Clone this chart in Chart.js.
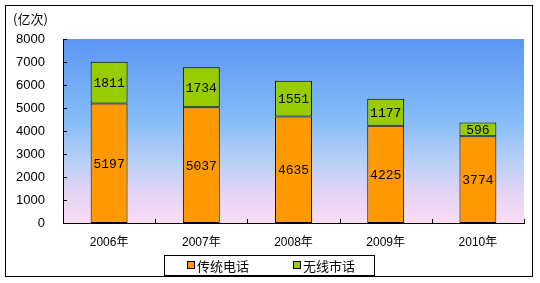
<!DOCTYPE html>
<html>
<head>
<meta charset="utf-8">
<script src="https://cdn.jsdelivr.net/npm/chart.js@4.4.0/dist/chart.umd.min.js"></script>
<style>
  html, body { margin: 0; padding: 0; background: #fff; }
  #wrap { width: 540px; height: 283px; position: relative; }
</style>
</head>
<body>
<div id="wrap"><canvas id="c" width="540" height="283"></canvas></div>
<script>
// 2006–2010 本地电话通话量（亿次）
const years = ['2006年', '2007年', '2008年', '2009年', '2010年'];
const fixedLine = [5197, 5037, 4635, 4225, 3774];   // 传统电话
const wireless = [1811, 1734, 1551, 1177, 596];     // 无线市话
const yTicks = [0, 1000, 2000, 3000, 4000, 5000, 6000, 7000, 8000];
const seriesNames = ['传统电话', '无线市话'];
const unitLabel = '(亿次)';

const sansFont = '"Liberation Sans", "Noto Sans CJK SC", sans-serif';
const cjkFont = '"Noto Sans CJK SC", sans-serif';
const numFont = '"Liberation Mono", "DejaVu Sans Mono", monospace';

const decor = {
  id: 'decor',
  beforeDraw(chart) {
    const { ctx, chartArea: a } = chart;
    ctx.save();
    ctx.fillStyle = '#fff';
    ctx.fillRect(0, 0, chart.width, chart.height);
    const g = ctx.createLinearGradient(0, a.top, 0, a.bottom);
    g.addColorStop(0, '#5c96f4');
    g.addColorStop(0.45, '#86bdf8');
    g.addColorStop(0.68, '#bcd0f6');
    g.addColorStop(0.85, '#e6d4f4');
    g.addColorStop(1, '#fadcf4');
    ctx.fillStyle = g;
    ctx.fillRect(a.left, a.top, a.right - a.left, a.bottom - a.top);
    ctx.restore();
  },
  afterDraw(chart) {
    const { ctx, chartArea: a, scales } = chart;
    ctx.save();
    // tick marks, pointing into the plot
    ctx.strokeStyle = '#000';
    ctx.lineWidth = 1;
    ctx.beginPath();
    yTicks.forEach(v => {
      const y = Math.round(scales.y.getPixelForValue(v)) + 0.5;
      ctx.moveTo(a.left, y); ctx.lineTo(a.left + 4, y);
    });
    const n = years.length;
    const step = (a.right - a.left) / n;
    for (let k = 1; k <= n; k++) {
      const x = Math.round(a.left + step * k) + 0.5;
      ctx.moveTo(x, a.bottom); ctx.lineTo(x, a.bottom - 4);
    }
    ctx.stroke();

    // value labels inside each segment
    ctx.fillStyle = '#000';
    ctx.font = '13px ' + numFont;
    ctx.textAlign = 'center';
    ctx.textBaseline = 'middle';
    chart.data.datasets.forEach((ds, di) => {
      chart.getDatasetMeta(di).data.forEach((bar, i) => {
        const p = bar.getProps(['x', 'y', 'base'], true);
        ctx.fillText(String(ds.data[i]), p.x, (p.y + p.base) / 2 + 1);
      });
    });

    // unit label
    ctx.font = '13px ' + cjkFont;
    ctx.textAlign = 'left';
    ctx.fillText(unitLabel, 13, 19);

    // legend
    const lx = 164.5, ly = 255.5, lw = 210, lh = 20;
    ctx.fillStyle = '#fff';
    ctx.fillRect(lx, ly, lw, lh);
    ctx.strokeRect(lx, ly, lw, lh);
    const starts = [187, 293];
    chart.data.datasets.forEach((ds, di) => {
      const sx = starts[di];
      ctx.fillStyle = ds.backgroundColor;
      ctx.fillRect(sx + 0.5, 261.5, 7, 7);
      ctx.strokeStyle = '#000';
      ctx.strokeRect(sx + 0.5, 261.5, 7, 7);
      ctx.fillStyle = '#000';
      ctx.font = '13px ' + cjkFont;
      ctx.textAlign = 'left';
      ctx.fillText(ds.label, sx + 10, 266);
    });

    // outer frame
    ctx.strokeStyle = '#000';
    ctx.strokeRect(5.5, 5.5, 527, 271);
    ctx.restore();
  }
};

new Chart(document.getElementById('c'), {
  type: 'bar',
  data: {
    labels: years,
    datasets: [
      { label: seriesNames[0], data: fixedLine, backgroundColor: '#ff9900',
        borderColor: '#000', borderWidth: 1, borderSkipped: false,
        barPercentage: 0.8, categoryPercentage: 0.5 },
      { label: seriesNames[1], data: wireless, backgroundColor: '#99cc00',
        borderColor: '#000', borderWidth: 1, borderSkipped: false,
        barPercentage: 0.8, categoryPercentage: 0.5 }
    ]
  },
  options: {
    responsive: false,
    animation: false,
    devicePixelRatio: 1,
    layout: { padding: { left: 0, right: 16, top: 39, bottom: 30 } },
    plugins: { legend: { display: false }, tooltip: { enabled: false } },
    scales: {
      x: {
        stacked: true,
        grid: { display: false, drawTicks: false },
        border: { display: true, color: '#000', width: 1 },
        ticks: { color: '#000', font: { size: 12, family: sansFont }, padding: 12 },
        afterFit(s) { s.height = 30; }
      },
      y: {
        stacked: true,
        min: 0, max: 8000,
        afterBuildTicks(s) { s.ticks = yTicks.map(v => ({ value: v })); },
        grid: { display: false, drawTicks: false },
        border: { display: true, color: '#000', width: 1 },
        ticks: { color: '#000', font: { size: 13, family: sansFont }, padding: 18,
                 callback: v => String(v) },
        afterFit(s) { s.width = 63; }
      }
    }
  },
  plugins: [decor]
});
</script>
</body>
</html>
